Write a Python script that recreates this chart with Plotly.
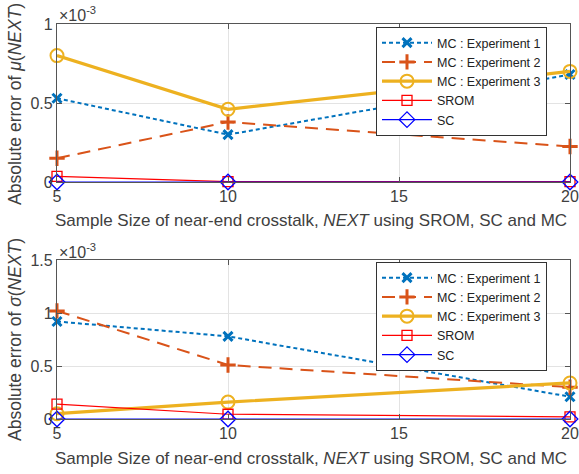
import plotly.graph_objects as go

# sample sizes
sample_size = [5, 10, 20]

# absolute error of mean (units of 1e-3)
mu_exp1 = [0.53, 0.30, 0.68]
mu_exp2 = [0.15, 0.38, 0.225]
mu_exp3 = [0.80, 0.46, 0.70]
mu_srom = [0.035, 0.002, 0.002]
mu_sc = [0.0, 0.0, 0.0]

# absolute error of std (units of 1e-3)
sd_exp1 = [0.92, 0.78, 0.21]
sd_exp2 = [1.02, 0.51, 0.30]
sd_exp3 = [0.05, 0.16, 0.34]
sd_srom = [0.14, 0.045, 0.02]
sd_sc = [0.0, 0.0, 0.0]

names = ["MC : Experiment 1", "MC : Experiment 2", "MC : Experiment 3", "SROM", "SC"]

STYLES = [
    dict(line=dict(color="#0072BD", width=2, dash="4px,3px"),
         marker=dict(symbol="x-thin", size=9, line=dict(width=3, color="#0072BD"))),
    dict(line=dict(color="#D95319", width=2, dash="13px,8px"),
         marker=dict(symbol="cross-thin", size=11, line=dict(width=3, color="#D95319"))),
    dict(line=dict(color="#EDB120", width=3.2),
         marker=dict(symbol="circle-open", size=13, color="#EDB120", line=dict(width=2))),
    dict(line=dict(color="#FF0000", width=1.2),
         marker=dict(symbol="square-open", size=10, color="#FF0000", line=dict(width=1.3))),
    dict(line=dict(color="#0000FF", width=1.2),
         marker=dict(symbol="diamond-open", size=12, color="#0000FF", line=dict(width=1.3))),
]

FONT = "Liberation Sans, Arial, sans-serif"
TXT = "#404040"
W, H = 579, 474


def px(x):
    return x / W


def py(y):
    return 1 - y / H


fig = go.Figure()

for row, series in enumerate([
    [mu_exp1, mu_exp2, mu_exp3, mu_srom, mu_sc],
    [sd_exp1, sd_exp2, sd_exp3, sd_srom, sd_sc],
]):
    xa = "x" if row == 0 else "x2"
    ya = "y" if row == 0 else "y2"
    leg = "legend" if row == 0 else "legend2"
    for name, vals, st in zip(names, series, STYLES):
        fig.add_trace(go.Scatter(
            x=sample_size, y=vals, name=name, mode="lines+markers",
            xaxis=xa, yaxis=ya, legend=leg, cliponaxis=False, **st,
        ))

axis_common = dict(
    showline=True, mirror="ticks", linecolor="#555555", linewidth=1.2,
    ticks="inside", ticklen=5, tickcolor="#555555",
    showgrid=True, gridcolor="#e3e3e3", gridwidth=1,
    zeroline=False, automargin=False, ticklabeloverflow="allow",
    tickfont=dict(family=FONT, size=16, color=TXT),
)

legend_common = dict(
    xanchor="left", yanchor="top", bgcolor="white", bordercolor="#333333", borderwidth=1,
    font=dict(family=FONT, size=12.5, color="#222222"), tracegroupgap=0,
    itemwidth=50,
)

xdom = [px(57), px(570)]
fig.update_layout(
    width=W, height=H,
    margin=dict(l=0, r=0, t=0, b=0),
    paper_bgcolor="white", plot_bgcolor="white",
    font=dict(family=FONT, color=TXT),
    xaxis=dict(domain=xdom, range=[5, 20], tickvals=[5, 10, 15, 20], anchor="y", **axis_common),
    yaxis=dict(domain=[py(182), py(24)], range=[0, 1], tickvals=[0, 0.5, 1],
               ticktext=["0", "0.5", "1"], anchor="x", **axis_common),
    xaxis2=dict(domain=xdom, range=[5, 20], tickvals=[5, 10, 15, 20], anchor="y2", **axis_common),
    yaxis2=dict(domain=[py(419), py(260)], range=[0, 1.5], tickvals=[0, 0.5, 1, 1.5],
                ticktext=["0", "0.5", "1", "1.5"], anchor="x2", **axis_common),
    legend=dict(x=px(376), y=py(27), **legend_common),
    legend2=dict(x=px(376), y=py(262), **legend_common),
    showlegend=True,
)

xtitle = "Sample Size of near-end crosstalk, <i>NEXT</i> using SROM, SC and MC"
annotations = []
for yc in [221, 458]:
    annotations.append(dict(text=xtitle, x=px(311), y=py(yc), xref="paper", yref="paper",
                            showarrow=False, xanchor="center", yanchor="middle",
                            font=dict(family=FONT, size=17, color=TXT)))
for txt, yc in [("Absolute error of <i>μ</i>(<i>NEXT</i>)", 104), ("Absolute error of <i>σ</i>(<i>NEXT</i>)", 340)]:
    annotations.append(dict(text=txt, x=px(15), y=py(yc), xref="paper", yref="paper",
                            showarrow=False, textangle=-90, xanchor="center", yanchor="middle",
                            font=dict(family=FONT, size=17.5, color=TXT)))
for yc in [14, 251]:
    annotations.append(dict(text="×10<sup>-3</sup>", x=px(57), y=py(yc), xref="paper", yref="paper",
                            showarrow=False, xanchor="left", yanchor="middle",
                            font=dict(family=FONT, size=16, color=TXT)))
fig.update_layout(annotations=annotations)

# drop the default 8px body margin so the figure sits at the page corner
fig.write_html("out.html", config={"displayModeBar": False},
               post_script="document.body.style.margin='0';")
